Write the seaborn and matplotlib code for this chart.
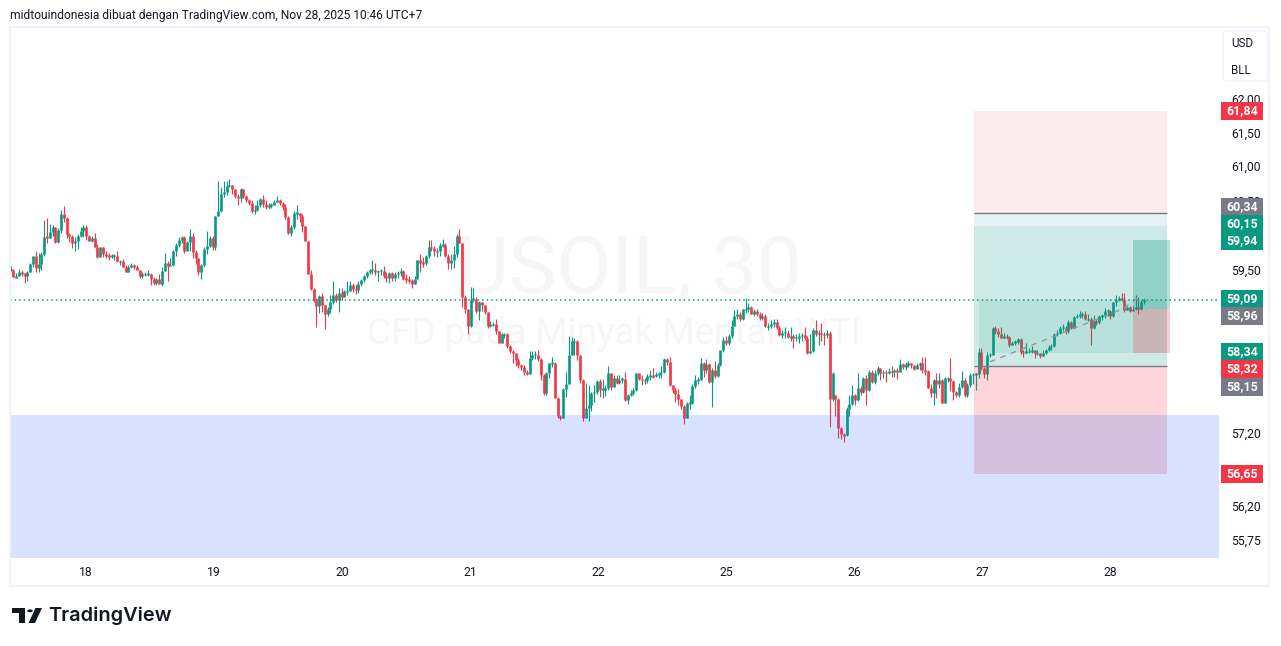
import matplotlib
matplotlib.use("Agg")
import matplotlib.pyplot as plt
from matplotlib.patches import Rectangle, FancyBboxPatch, Polygon, Circle
import pandas as pd
import seaborn as sns

# 30 minute candles, open is the previous close
closes = [
    59.52, 59.41, 59.42, 59.48, 59.47, 59.43, 59.48, 59.60, 59.71, 59.54,
    59.60, 59.75, 59.99, 59.98, 60.06, 60.14, 59.91, 60.09, 60.32, 60.27,
    60.03, 60.00, 59.90, 59.93, 60.01, 60.07, 60.14, 60.01, 59.93, 59.98,
    59.84, 59.70, 59.84, 59.75, 59.72, 59.71, 59.72, 59.72, 59.64, 59.64,
    59.56, 59.49, 59.55, 59.58, 59.56, 59.52, 59.43, 59.45, 59.45, 59.46,
    59.38, 59.33, 59.38, 59.31, 59.50, 59.62, 59.57, 59.59, 59.78, 59.88,
    59.94, 59.99, 59.79, 59.91, 60.01, 59.77, 59.68, 59.49, 59.58, 59.81,
    59.86, 59.98, 59.84, 60.29, 60.37, 60.61, 60.64, 60.73, 60.75, 60.69,
    60.58, 60.55, 60.68, 60.59, 60.52, 60.48, 60.36, 60.38, 60.45, 60.54,
    60.47, 60.42, 60.45, 60.46, 60.49, 60.52, 60.48, 60.43, 60.28, 60.05,
    60.13, 60.33, 60.34, 60.29, 60.15, 59.93, 59.46, 59.24, 59.09, 59.00,
    59.14, 59.01, 58.88, 58.95,
    59.05, 59.15, 59.09, 59.19, 59.12, 59.21, 59.21, 59.30, 59.24, 59.23,
    59.31, 59.37, 59.43, 59.48, 59.52, 59.52, 59.48, 59.50, 59.50, 59.42,
    59.40, 59.47, 59.40, 59.45, 59.47, 59.50, 59.39, 59.38, 59.37, 59.31,
    59.38, 59.65, 59.62, 59.61, 59.71, 59.85, 59.83, 59.78, 59.78, 59.87,
    59.88, 59.71, 59.61, 59.66, 59.74, 60.01, 59.90, 59.12, 58.95, 58.71,
    59.09, 59.10, 58.93, 59.05, 59.01, 58.92, 58.71, 58.74, 58.74, 58.64,
    58.48, 58.60, 58.60, 58.43, 58.36, 58.33, 58.24, 58.16, 58.14, 58.07,
    58.04, 58.26, 58.31, 58.31, 58.25, 58.02, 57.77, 58.06, 58.19, 58.20,
    57.71, 57.45, 57.43, 57.83, 57.90, 58.30, 58.50, 58.50, 58.31, 57.95,
    57.43, 57.57, 57.60, 57.77, 57.79, 57.94, 57.82, 57.83, 57.84, 58.05,
    57.86, 57.98, 57.92, 57.96, 57.97, 57.67, 57.74,
    57.77, 57.82, 58.05, 57.97, 57.95, 57.95, 58.01, 58.02, 58.01, 58.04,
    58.05, 58.07, 58.25, 58.21, 57.88, 57.82, 57.76, 57.69, 57.59, 57.43,
    57.63, 57.64, 57.87, 57.95, 57.96, 58.20, 58.09, 58.18, 57.93, 58.10,
    58.01, 58.17, 58.37, 58.51, 58.48, 58.57, 58.72, 58.85, 58.88, 58.81,
    58.95, 58.95, 58.98, 58.89, 58.93, 58.88, 58.83, 58.86, 58.71, 58.71,
    58.75, 58.77, 58.69, 58.59, 58.62, 58.62, 58.56, 58.57, 58.55, 58.55,
    58.57, 58.59, 58.55, 58.33, 58.36, 58.66, 58.60, 58.62, 58.60, 58.59,
    58.62, 57.69, 58.05, 57.69, 57.29, 57.20, 57.19, 57.55, 57.62, 57.75,
    57.68, 57.85, 57.79, 57.98, 57.81, 58.07, 57.93, 58.05, 58.13, 58.05,
    58.07, 58.05, 58.08, 58.07, 58.09, 58.07, 58.18, 58.14, 58.18, 58.19,
    58.17, 58.11, 58.17, 58.19, 58.09, 58.08, 57.85, 57.77, 57.95, 57.90,
    57.95, 57.64, 57.98, 57.98, 57.94, 57.79, 57.75, 57.86, 57.95, 57.74,
    57.88, 58.02, 58.04, 58.04, 58.35, 58.12, 58.04, 58.31,
    58.31, 58.69, 58.64, 58.60, 58.55, 58.58, 58.56, 58.44, 58.48, 58.49,
    58.53, 58.35, 58.33, 58.36, 58.36, 58.37, 58.33, 58.33, 58.29, 58.33,
    58.37, 58.42, 58.43, 58.60, 58.62, 58.69, 58.69, 58.64, 58.77, 58.69,
    58.84, 58.86, 58.87, 58.89, 58.81, 58.81, 58.68, 58.78, 58.77, 58.85,
    58.86, 58.93, 58.93, 58.85, 59.05, 59.09, 59.11, 59.09, 58.94, 58.98,
    58.93, 58.95, 58.99, 58.95, 59.05, 59.09,
]
highs = [
    59.57, 59.53, 59.47, 59.53, 59.52, 59.47, 59.50, 59.62, 59.72, 59.78,
    59.76, 59.77, 60.24, 60.26, 60.17, 60.16, 60.14, 60.12, 60.38, 60.44,
    60.28, 60.05, 60.02, 59.99, 60.03, 60.14, 60.16, 60.16, 60.02, 60.00,
    60.04, 59.89, 59.85, 59.80, 59.79, 59.76, 59.74, 59.74, 59.79, 59.66,
    59.67, 59.59, 59.58, 59.61, 59.60, 59.58, 59.52, 59.48, 59.49, 59.51,
    59.47, 59.41, 59.40, 59.46, 59.55, 59.76, 59.64, 59.68, 59.80, 59.90,
    59.99, 60.00, 60.00, 59.93, 60.11, 60.04, 59.80, 59.68, 59.60, 59.84,
    60.08, 60.00, 60.00, 60.30, 60.81, 60.71, 60.81, 60.81, 60.84, 60.75,
    60.68, 60.62, 60.70, 60.68, 60.60, 60.54, 60.52, 60.45, 60.52, 60.56,
    60.60, 60.52, 60.48, 60.48, 60.52, 60.58, 60.54, 60.50, 60.47, 60.30,
    60.16, 60.36, 60.45, 60.34, 60.32, 60.15, 59.93, 59.51, 59.25, 59.11,
    59.16, 59.19, 59.00, 58.98,
    59.15, 59.36, 59.19, 59.25, 59.25, 59.23, 59.36, 59.36, 59.32, 59.31,
    59.35, 59.39, 59.44, 59.50, 59.53, 59.65, 59.62, 59.52, 59.53, 59.57,
    59.48, 59.49, 59.48, 59.48, 59.50, 59.54, 59.52, 59.45, 59.42, 59.38,
    59.42, 59.66, 59.74, 59.70, 59.73, 59.94, 59.95, 59.86, 59.83, 59.90,
    59.96, 59.90, 59.74, 59.75, 59.86, 60.03, 60.10, 59.90, 59.15, 58.95,
    59.27, 59.26, 59.12, 59.07, 59.06, 59.01, 58.92, 58.78, 58.77, 58.81,
    58.62, 58.62, 58.62, 58.62, 58.44, 58.37, 58.33, 58.26, 58.18, 58.17,
    58.10, 58.36, 58.36, 58.36, 58.37, 58.26, 58.04, 58.07, 58.20, 58.28,
    58.21, 57.72, 57.47, 57.85, 58.07, 58.58, 58.56, 58.54, 58.52, 58.31,
    57.97, 57.91, 57.88, 57.79, 57.88, 57.96, 57.97, 57.97, 57.89, 58.15,
    58.06, 58.02, 58.03, 58.02, 58.00, 58.07, 57.76,
    57.82, 57.85, 58.06, 58.05, 58.02, 57.99, 58.04, 58.10, 58.12, 58.07,
    58.07, 58.15, 58.27, 58.26, 58.28, 57.88, 57.84, 57.83, 57.69, 57.60,
    57.65, 57.74, 57.90, 58.02, 58.00, 58.26, 58.21, 58.25, 58.20, 58.12,
    58.22, 58.20, 58.38, 58.56, 58.57, 58.60, 58.80, 58.94, 58.95, 58.92,
    58.96, 59.11, 59.04, 59.00, 58.96, 58.95, 58.91, 58.90, 58.89, 58.76,
    58.80, 58.82, 58.82, 58.72, 58.66, 58.70, 58.66, 58.70, 58.60, 58.60,
    58.62, 58.62, 58.70, 58.58, 58.60, 58.68, 58.80, 58.66, 58.76, 58.63,
    58.66, 58.64, 58.07, 57.75, 57.70, 57.30, 57.22, 57.58, 57.74, 57.88,
    57.76, 58.05, 57.87, 58.00, 58.02, 58.10, 58.10, 58.09, 58.15, 58.10,
    58.10, 58.10, 58.12, 58.15, 58.11, 58.12, 58.25, 58.20, 58.21, 58.22,
    58.20, 58.17, 58.20, 58.21, 58.28, 58.28, 58.09, 57.90, 57.97, 58.06,
    58.05, 57.97, 58.00, 58.00, 58.26, 57.96, 57.80, 57.92, 58.08, 57.99,
    57.92, 58.06, 58.05, 58.05, 58.40, 58.40, 58.14, 58.35,
    58.34, 58.70, 58.72, 58.68, 58.70, 58.62, 58.60, 58.58, 58.50, 58.52,
    58.55, 58.55, 58.37, 58.48, 58.40, 58.43, 58.37, 58.38, 58.34, 58.38,
    58.39, 58.44, 58.46, 58.62, 58.66, 58.72, 58.74, 58.72, 58.80, 58.78,
    58.86, 58.89, 58.93, 58.92, 58.93, 58.89, 58.84, 58.87, 58.82, 58.87,
    58.88, 58.97, 58.95, 58.94, 59.06, 59.16, 59.14, 59.18, 59.18, 59.00,
    59.00, 59.00, 59.15, 59.12, 59.09, 59.11,
]
lows = [
    59.50, 59.41, 59.40, 59.42, 59.43, 59.33, 59.35, 59.49, 59.56, 59.48,
    59.48, 59.52, 59.72, 59.90, 59.99, 60.00, 59.90, 59.90, 60.05, 60.20,
    59.98, 59.92, 59.83, 59.79, 59.81, 59.99, 59.99, 59.94, 59.93, 59.91,
    59.84, 59.69, 59.70, 59.70, 59.69, 59.65, 59.69, 59.65, 59.63, 59.58,
    59.55, 59.48, 59.48, 59.54, 59.53, 59.52, 59.40, 59.40, 59.42, 59.42,
    59.30, 59.30, 59.30, 59.31, 59.28, 59.50, 59.36, 59.57, 59.57, 59.72,
    59.84, 59.90, 59.76, 59.78, 59.78, 59.69, 59.60, 59.44, 59.38, 59.55,
    59.75, 59.84, 59.80, 59.80, 60.29, 60.35, 60.57, 60.60, 60.72, 60.62,
    60.55, 60.45, 60.50, 60.55, 60.50, 60.46, 60.33, 60.32, 60.36, 60.42,
    60.43, 60.40, 60.40, 60.41, 60.46, 60.49, 60.46, 60.38, 60.25, 60.03,
    60.01, 60.10, 60.25, 60.20, 60.06, 59.93, 59.45, 59.23, 59.05, 58.70,
    58.90, 58.92, 58.67, 58.85,
    58.90, 59.03, 59.05, 58.91, 59.08, 59.13, 59.15, 59.22, 59.20, 59.17,
    59.19, 59.28, 59.34, 59.40, 59.46, 59.46, 59.44, 59.36, 59.44, 59.40,
    59.34, 59.33, 59.35, 59.36, 59.40, 59.42, 59.37, 59.33, 59.33, 59.26,
    59.31, 59.38, 59.49, 59.55, 59.59, 59.69, 59.78, 59.72, 59.70, 59.72,
    59.85, 59.70, 59.53, 59.53, 59.54, 59.70, 59.90, 58.98, 58.90, 58.60,
    58.70, 59.05, 58.90, 58.80, 58.93, 58.88, 58.68, 58.70, 58.72, 58.60,
    58.48, 58.47, 58.55, 58.41, 58.34, 58.20, 58.15, 58.13, 58.10, 58.02,
    58.02, 58.04, 58.24, 58.25, 58.22, 57.95, 57.75, 57.74, 57.98, 58.14,
    57.70, 57.42, 57.40, 57.44, 57.72, 57.90, 58.30, 58.31, 58.24, 57.92,
    57.39, 57.43, 57.39, 57.52, 57.65, 57.76, 57.72, 57.70, 57.73, 57.81,
    57.81, 57.86, 57.90, 57.90, 57.92, 57.66, 57.62,
    57.73, 57.75, 57.80, 57.95, 57.88, 57.90, 57.92, 57.96, 57.98, 58.00,
    57.98, 57.98, 58.06, 58.16, 57.87, 57.78, 57.65, 57.60, 57.55, 57.34,
    57.43, 57.55, 57.62, 57.85, 57.90, 57.95, 58.00, 58.06, 57.92, 57.58,
    57.98, 58.00, 58.15, 58.35, 58.45, 58.44, 58.55, 58.72, 58.82, 58.78,
    58.80, 58.90, 58.92, 58.88, 58.85, 58.85, 58.80, 58.80, 58.70, 58.66,
    58.68, 58.70, 58.67, 58.57, 58.55, 58.55, 58.54, 58.50, 58.40, 58.50,
    58.48, 58.50, 58.52, 58.32, 58.34, 58.35, 58.58, 58.45, 58.50, 58.45,
    58.55, 57.30, 57.66, 57.45, 57.15, 57.13, 57.10, 57.18, 57.45, 57.60,
    57.60, 57.66, 57.75, 57.78, 57.60, 57.80, 57.92, 57.90, 58.03, 57.95,
    57.98, 57.93, 58.04, 58.00, 58.00, 57.97, 58.08, 58.11, 58.10, 58.14,
    58.13, 58.10, 58.12, 58.10, 58.05, 58.02, 57.84, 57.72, 57.60, 57.70,
    57.85, 57.63, 57.63, 57.93, 57.80, 57.68, 57.72, 57.72, 57.84, 57.72,
    57.72, 57.86, 57.90, 57.82, 57.98, 58.10, 57.98, 57.96,
    58.28, 58.30, 58.60, 58.56, 58.54, 58.55, 58.53, 58.42, 58.44, 58.44,
    58.46, 58.32, 58.28, 58.33, 58.33, 58.33, 58.26, 58.30, 58.27, 58.29,
    58.32, 58.36, 58.38, 58.42, 58.57, 58.60, 58.65, 58.60, 58.62, 58.67,
    58.68, 58.83, 58.83, 58.83, 58.80, 58.79, 58.45, 58.67, 58.73, 58.75,
    58.80, 58.83, 58.86, 58.82, 58.84, 59.00, 59.07, 59.07, 58.92, 58.95,
    58.92, 58.93, 58.94, 58.88, 58.94, 59.03,
]
# bars that open away from the previous close
open_gaps = {293: 57.69, 294: 57.75}

day_labels = ["18", "19", "20", "21", "22", "25", "26", "27", "28"]
day_bars = [26.9, 72.5, 118.1, 163.8, 209.4, 255.0, 300.7, 346.3, 391.9]
price_ticks = [62.0, 61.5, 61.0, 60.5, 59.5, 58.4, 57.2, 56.7, 56.2, 55.75]
price_labels = ["62,00", "61,50", "61,00", "60,50", "59,50", "58,40", "57,20", "56,70", "56,20", "55,75"]

# price tags on the right, y is where the chart stacks them
tag_labels = ["61,84", "60,34", "60,15", "59,94", "59,09", "58,96", "58,34", "58,32", "58,15", "56,65"]
tag_kinds = ["r", "g", "t", "t", "t", "g", "t", "r", "g", "r"]
tag_y = [111, 207, 224, 241, 299, 316, 352, 369, 387, 474]

last_price = 59.09
zone_floor = 57.47
trend_bars = [349.1, 396.5, 401.8, 404.0]
trend_prices = [58.21, 58.96, 59.12, 59.07]

UP = "#089981"
DOWN = "#f23645"
GREY = "#787b86"
TEXT = "#131722"
BORDER = "#f0f3fa"

W, H = 1281, 646
sns.set_style("white")
plt.rcParams["font.family"] = ["Roboto", "DejaVu Sans"]
plt.rcParams["lines.solid_capstyle"] = "butt"

fig = plt.figure(figsize=(W / 100, H / 100), dpi=100)
ax = fig.add_axes([10 / W, 1 - 558 / H, 1209 / W, 531 / H])


def fx(x):
    return x / W


def fy(y):
    return 1 - y / H


def px_rect(x0, y0, x1, y1, **kw):
    fig.add_artist(Rectangle((fx(x0), fy(y1)), (x1 - x0) / W, (y1 - y0) / H,
                             transform=fig.transFigure, **kw))


# long form tables so seaborn draws one line per candle
opens = [closes[0]] + closes[:-1]
for bar, price in open_gaps.items():
    opens[bar] = price
wick_rows = []
body_rows = []
for i, (o, c, h, l) in enumerate(zip(opens, closes, highs, lows)):
    side = "up" if c >= o else "down"
    wick_rows += [(i, max(h, o, c), side), (i, min(l, o, c), side)]
    top, bottom = max(o, c), min(o, c)
    if top - bottom < 0.016:
        top, bottom = top + 0.008, bottom - 0.008
    body_rows += [(i, top, side), (i, bottom, side)]
wicks = pd.DataFrame(wick_rows, columns=["bar", "price", "side"])
bodies = pd.DataFrame(body_rows, columns=["bar", "price", "side"])
colors = {"up": UP, "down": DOWN}

sns.lineplot(data=wicks, x="bar", y="price", hue="side", units="bar", estimator=None,
             palette=colors, linewidth=0.8, legend=False, ax=ax, zorder=3)
sns.lineplot(data=bodies, x="bar", y="price", hue="side", units="bar", estimator=None,
             palette=colors, linewidth=1.9, legend=False, ax=ax, zorder=4)

ax.set_yscale("log")
ax.set_ylim(55.52, 63.105)
ax.set_xlim(-0.18, 430.7)
ax.minorticks_off()
ax.yaxis.tick_right()
ax.set_yticks(price_ticks, price_labels)
ax.set_xticks(day_bars, day_labels)
ax.tick_params(axis="y", length=0, pad=9, labelsize=8.7, colors=TEXT)
ax.tick_params(axis="x", length=0, pad=5.5, labelsize=8.7, colors=TEXT)
ax.tick_params(axis="both", which="minor", length=0)
for tick_label in ax.get_yticklabels():
    tick_label.set_verticalalignment("center")
ax.set_xlabel("")
ax.set_ylabel("")
sns.despine(ax=ax, left=True, bottom=True, right=True, top=True)

# watermark
ax.text(fx(629), fy(270), "USOIL, 30", transform=fig.transFigure, ha="center", va="center",
        fontsize=57.6, color="#f6f6f6", zorder=1)
ax.text(fx(614), fy(334), "CFD pada Minyak Mentah WTI", transform=fig.transFigure, ha="center",
        va="center", fontsize=26.6, color="#f6f6f6", zorder=1)

# position tools
ax.fill_between([343.4, 412.2], 60.34, 61.84, color=DOWN, alpha=0.09, lw=0, zorder=5)
ax.fill_between([343.4, 412.2], 58.15, 60.34, color=UP, alpha=0.1, lw=0, zorder=5)
ax.fill_between([343.4, 412.2], 58.15, 60.15, color=UP, alpha=0.1, lw=0, zorder=5)
ax.fill_between([345.2, 412.2], 58.34, 59.09, color=UP, alpha=0.1, lw=0, zorder=5)
ax.fill_between([343.4, 412.2], 56.65, 58.15, color=DOWN, alpha=0.2, lw=0, zorder=5)
ax.hlines([60.34, 58.15], 343.4, 412.2, color=GREY, lw=1, zorder=6)
ax.fill_between([400, 413.2], 58.96, 59.94, color=UP, alpha=0.3, lw=0, zorder=6)
ax.fill_between([400, 413.2], 58.34, 58.96, color=DOWN, alpha=0.25, lw=0, zorder=6)

# dashed path over the last two days
sns.lineplot(x=trend_bars, y=trend_prices, color="#9598a1", linewidth=1, linestyle=(0, (4, 4)),
             estimator=None, sort=False, ax=ax, zorder=7)

ax.axhline(last_price, color=UP, lw=1.1, linestyle=(0, (1, 2)), zorder=7)
ax.axhspan(55.52, zone_floor, color="#2962ff", alpha=0.18, lw=0, zorder=8)

# pane border and currency box
px_rect(10, 27, 1269, 586, fill=False, edgecolor=BORDER, lw=1.5, zorder=4)
fig.add_artist(FancyBboxPatch((fx(1223), fy(81)), 44 / W, 50 / H,
                              boxstyle="round,pad=0,rounding_size=0.004", transform=fig.transFigure,
                              facecolor="white", edgecolor=BORDER, lw=1, zorder=4))
fig.text(fx(1242), fy(43.5), "USD", ha="center", va="center", fontsize=8.4, color=TEXT, zorder=6)
fig.text(fx(1241), fy(70), "BLL", ha="center", va="center", fontsize=8.4, color=TEXT, zorder=6)

tag_colors = {"r": DOWN, "g": GREY, "t": UP}
for label, kind, y in zip(tag_labels, tag_kinds, tag_y):
    px_rect(1221, y - 8.7, 1263, y + 8.7, facecolor=tag_colors[kind], edgecolor="none", zorder=5)
    fig.text(fx(1242), fy(y), label, ha="center", va="center", fontsize=8.9, color="white",
             fontweight="bold", zorder=6)

fig.text(fx(10), fy(15), "midtouindonesia dibuat dengan TradingView.com, Nov 28, 2025 10:46 UTC+7",
         ha="left", va="center", fontsize=8.65, color=TEXT)

# logo
logo = "#131722"
px_rect(12, 608, 25, 613, facecolor=logo, edgecolor="none", zorder=5)
px_rect(19, 608, 25, 623, facecolor=logo, edgecolor="none", zorder=5)
fig.add_artist(Circle((fx(30), fy(610.8)), 2.8 / W, transform=fig.transFigure, facecolor=logo,
                      edgecolor="none", zorder=5))
fig.add_artist(Polygon([(fx(35.5), fy(608)), (fx(42), fy(608)), (fx(35), fy(623)), (fx(28.5), fy(623))],
                       transform=fig.transFigure, facecolor=logo, edgecolor="none", zorder=5))
fig.text(fx(48), fy(616), "TradingView", ha="left", va="center", fontsize=14.4, color=logo,
         fontfamily="Inter", fontweight="semibold")

fig.savefig("out.png", dpi=100, facecolor="white")
